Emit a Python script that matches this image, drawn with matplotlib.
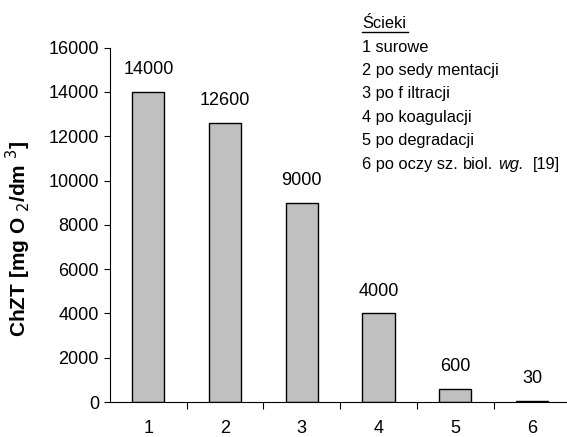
import matplotlib.pyplot as plt
from matplotlib.lines import Line2D

plt.rcParams['font.family'] = ['Liberation Sans', 'DejaVu Sans']

stages = [1, 2, 3, 4, 5, 6]
chzt = [14000, 12600, 9000, 4000, 600, 30]
legend_title = 'Ścieki'
legend_lines = ['1 surowe', '2 po sedy mentacji', '3 po f iltracji',
                '4 po koagulacji', '5 po degradacji']

fig = plt.figure(figsize=(5.67, 4.37), dpi=100)
ax = fig.add_axes([0.194, 0.080, 0.812, 0.811])

ax.bar(stages, chzt, width=0.42, color='#c0c0c0', edgecolor='black', linewidth=1)
for x, v in zip(stages, chzt):
    ax.annotate(str(v), (x, v), xytext=(0, 10), textcoords='offset points',
                ha='center', va='bottom', fontsize=13)

ax.set_xlim(0.5, 6.5)
ax.set_ylim(0, 16000)
ax.set_yticks(range(0, 16001, 2000))
ax.set_xticks(stages)
ax.set_xticks([1.5, 2.5, 3.5, 4.5, 5.5], minor=True)
ax.tick_params(axis='x', which='major', length=0, pad=13, labelsize=13)
ax.tick_params(axis='x', which='minor', length=5, direction='out', width=0.8)
ax.tick_params(axis='y', length=4, direction='out', width=0.8, labelsize=13, pad=4)
ax.spines['top'].set_visible(False)
ax.spines['right'].set_visible(False)
ax.spines['left'].set_linewidth(0.8)
ax.spines['bottom'].set_linewidth(0.8)
ax.set_ylabel('ChZT [mg O $_2$/dm $^3$]', fontsize=15, fontweight='bold')
ax.yaxis.set_label_coords(-0.168, 0.459)

# legend-like text block
fs = 11.8
x0 = 362 / 567
fig.text(x0, 1 - 23 / 437, legend_title, fontsize=fs, va='center')
fig.add_artist(Line2D([x0, 408 / 567], [1 - 32 / 437, 1 - 32 / 437],
                      color='black', lw=1))
y = 47
for line in legend_lines:
    fig.text(x0, 1 - y / 437, line, fontsize=fs, va='center')
    y += 23.4
fig.text(x0, 1 - y / 437, '6 po oczy sz.', fontsize=fs, va='center')
fig.text(463 / 567, 1 - y / 437, 'biol.', fontsize=fs, va='center')
fig.text(498 / 567, 1 - y / 437, 'wg.', fontsize=fs, va='center', style='italic')
fig.text(533 / 567, 1 - y / 437, '[19]', fontsize=fs, va='center')

fig.savefig('out.png', dpi=100)
